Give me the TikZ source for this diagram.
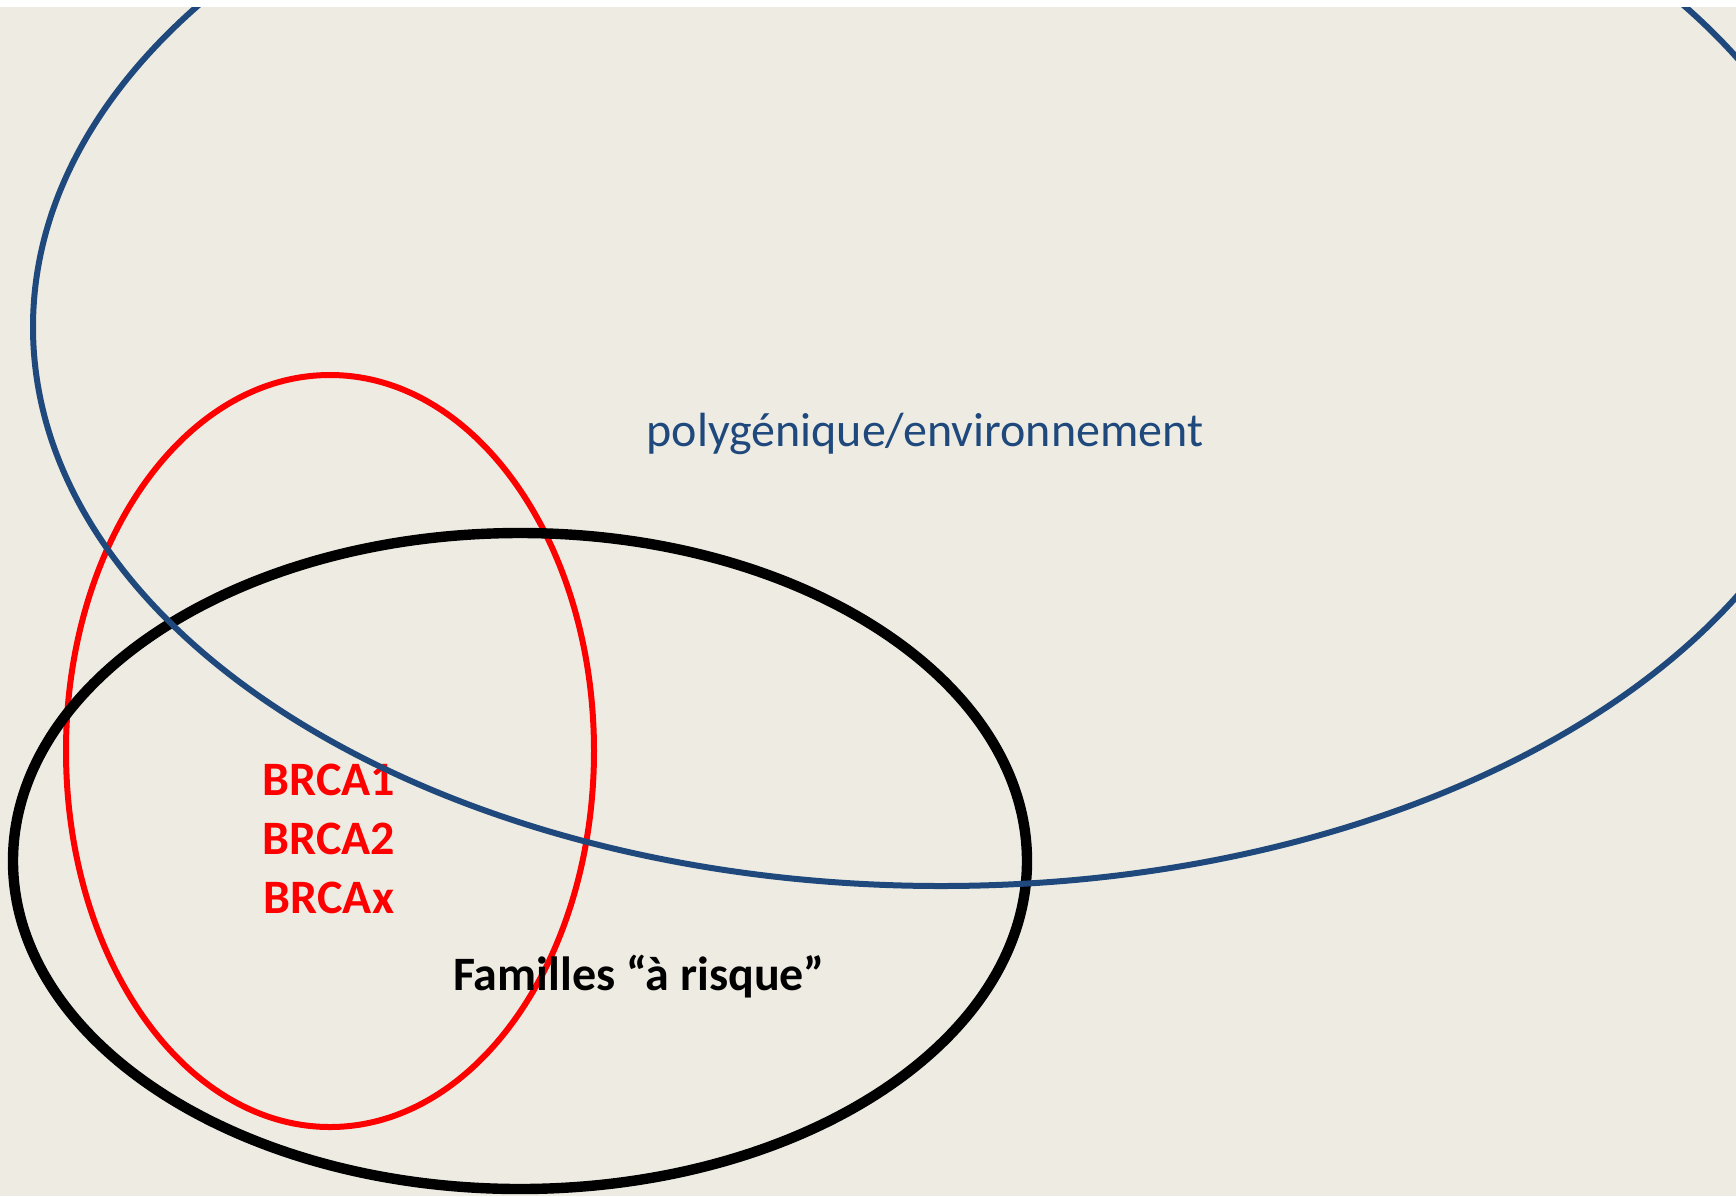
\documentclass[tikz,border=0pt]{standalone}
\usepackage{fontspec}
\setmainfont{Carlito}
\usepackage{tikz}
\usetikzlibrary{positioning}
\definecolor{slidebg}{HTML}{EEECE2}
\definecolor{polyblue}{HTML}{1F497D}
\definecolor{brcared}{HTML}{FF0000}
\tikzset{
    polyset/.style={draw=polyblue, line width=3pt},
    brcaset/.style={draw=brcared, line width=3pt},
    familyset/.style={draw=black, line width=5.2pt},
    labeltext/.style={font=\fontsize{24}{28}\selectfont, inner sep=0pt}
}

\begin{document}
\begin{tikzpicture}[x=0.5pt, y=-0.5pt]
	\fill[white] (0,0) rectangle (1736,1196);
	\fill[slidebg] (0,7) rectangle (1736,1196);
	\useasboundingbox (0,0) rectangle (1736,1196);
	\begin{scope}
	\clip (0,7) rectangle (1736,1196);
	% gene sets
	\draw[brcaset] (330,751) ellipse [x radius=264, y radius=376];
	\draw[familyset] (520,861) ellipse [x radius=507, y radius=328];
	\node[labeltext, text=brcared, font=\fontsize{24}{28}\selectfont\bfseries, align=center] (brca) at (329,839)
	    {BRCA1\\[0.07em]BRCA2\\[0.07em]BRCAx};
	\node[labeltext, font=\fontsize{24}{28}\selectfont\bfseries] (familles) at (639,977) {Familles “à risque”};
	\node[labeltext, text=polyblue] (poly) at (925,434) {polygénique/environnement};
	\draw[polyset] (941,327) ellipse [x radius=908, y radius=559];
	\end{scope}
\end{tikzpicture}
\end{document}
